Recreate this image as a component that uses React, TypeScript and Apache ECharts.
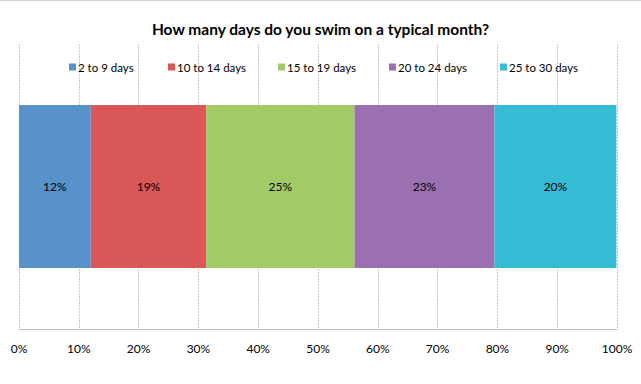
import React, { useEffect, useRef } from "react";
import * as echarts from "echarts";

const categories = ["Share"];
const seriesNames = ["2 to 9 days", "10 to 14 days", "15 to 19 days", "20 to 24 days", "25 to 30 days"];
const seriesValues = [12.0, 19.3, 24.8, 23.4, 20.4];
const seriesColors = ["#5892CB", "#D95757", "#A2CB68", "#9A70B1", "#35BBD3"];
const tickValues = [0, 10, 20, 30, 40, 50, 60, 70, 80, 90, 100];

const FONT = "Lato, 'Liberation Sans', sans-serif";

export default function App() {
  const ref = useRef<HTMLDivElement>(null);
  useEffect(() => {
    if (!ref.current) return;
    const chart = echarts.init(ref.current, undefined, { renderer: "svg" });
    const legendLefts = [64, 163, 273, 384, 495];
    chart.setOption({
      animation: false,
      backgroundColor: "#ffffff",
      textStyle: { fontFamily: FONT },
      title: {
        text: "How many days do you swim on a typical month?",
        left: "center",
        top: 15,
        textStyle: { fontFamily: FONT, fontSize: 15.5, fontWeight: "bold", color: "#000" },
      },
      legend: seriesNames.map((n, i) => ({
        data: [n],
        left: legendLefts[i],
        top: 55,
        icon: "rect",
        itemWidth: 7,
        itemHeight: 7,
        textStyle: { fontFamily: FONT, fontSize: 11.5, color: "#000", padding: [0, 0, 0, -3] },
      })),
      grid: { left: 19, right: 24, top: 43, bottom: 55 },
      xAxis: {
        type: "value",
        min: tickValues[0],
        max: tickValues[tickValues.length - 1],
        interval: 10,
        axisLine: { show: true, lineStyle: { color: "#BFBFBF", width: 1 } },
        axisTick: { show: false },
        axisLabel: { formatter: "{value}%", fontSize: 12, color: "#000", margin: 13, fontFamily: FONT },
        splitLine: { show: true, lineStyle: { color: "#C8C8C8", type: [2, 1], width: 1 } },
      },
      yAxis: {
        type: "category",
        data: categories,
        axisLine: { show: false },
        axisTick: { show: false },
        axisLabel: { show: false },
        splitLine: { show: false },
      },
      series: seriesNames.map((n, i) => ({
        name: n,
        type: "bar",
        stack: "total",
        barWidth: 163,
        data: [seriesValues[i]],
        itemStyle: { color: seriesColors[i] },
        label: {
          show: true,
          position: "inside",
          formatter: (p: any) => Math.round(p.value) + "%",
          fontSize: 12,
          color: "#000",
          fontFamily: FONT,
        },
      })),
    });
    return () => chart.dispose();
  }, []);
  return (
    <div
      style={{ position: "fixed", left: 0, top: 0, width: 641, height: 384, borderTop: "1px solid #D0D0D0", boxSizing: "border-box" }}
    >
      <div ref={ref} style={{ width: 641, height: 383 }} />
    </div>
  );
}
